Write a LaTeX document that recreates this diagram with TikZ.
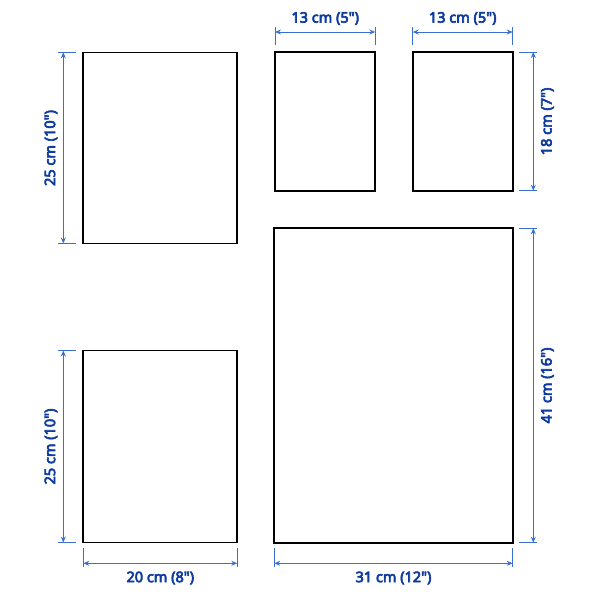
\documentclass[tikz,border=0pt]{standalone}
\usepackage{fontspec}
\newfontfamily\dimfont{Noto Sans}[FakeBold=4.5]
\usetikzlibrary{arrows.meta}
\definecolor{dimline}{HTML}{3A6FD0}
\definecolor{dimtext}{HTML}{0E3C9E}
\newcommand{\qt}{\symbol{34}}
\tikzset{
  panel/.style={draw=black, line width=1.8pt, inner sep=0pt, fill=white},
  dimarrow/.style={draw=dimline, line width=0.9pt, {Stealth[length=6pt,width=5pt]}-{Stealth[length=6pt,width=5pt]}},
  extline/.style={draw=dimline, line width=0.9pt},
  dimlabel/.style={text=dimtext, font=\dimfont\fontsize{14.5}{16}\selectfont, inner sep=0pt},
}
\begin{document}
\begin{tikzpicture}[x=1pt,y=-1pt]
\useasboundingbox (0,0) rectangle (600,600);
% panels
\node[panel, minimum width=154, minimum height=191] (A) at (160.3,147.9) {};
\node[panel, minimum width=100, minimum height=139] (B) at (325.2,121.4) {};
\node[panel, minimum width=100, minimum height=139] (C) at (462.7,121.4) {};
\node[panel, minimum width=154, minimum height=192] (D) at (160.3,446.5) {};
\node[panel, minimum width=238.5, minimum height=314.5] (E) at (393.5,385.5) {};

% A vertical dim
\coordinate (a1) at (58,52.3); \coordinate (a2) at (76,52.3);
\coordinate (a3) at (58,243.5); \coordinate (a4) at (76,243.5);
\draw[extline] (a1) -- (a2);
\draw[extline] (a3) -- (a4);
\coordinate (a5) at (63.3,52.3); \coordinate (a6) at (63.3,243.5);
\draw[dimarrow] (a5) -- (a6);
\node[dimlabel, rotate=90] (la) at (51,148) {25 cm (10\qt)};

% B horizontal dim
\coordinate (b1) at (275,27); \coordinate (b2) at (275,45);
\coordinate (b3) at (375.3,27); \coordinate (b4) at (375.3,45);
\draw[extline] (b1) -- (b2);
\draw[extline] (b3) -- (b4);
\coordinate (b5) at (275,32); \coordinate (b6) at (375.3,32);
\draw[dimarrow] (b5) -- (b6);
\node[dimlabel] (lb) at (325.2,18.5) {13 cm (5\qt)};

% C horizontal dim
\coordinate (c1) at (412.7,27); \coordinate (c2) at (412.7,45);
\coordinate (c3) at (512.7,27); \coordinate (c4) at (512.7,45);
\draw[extline] (c1) -- (c2);
\draw[extline] (c3) -- (c4);
\coordinate (c5) at (412.7,32); \coordinate (c6) at (512.7,32);
\draw[dimarrow] (c5) -- (c6);
\node[dimlabel] (lc) at (462.7,18.5) {13 cm (5\qt)};

% C vertical dim
\coordinate (c7) at (519,52); \coordinate (c8) at (537,52);
\coordinate (c9) at (519,190.7); \coordinate (c10) at (537,190.7);
\draw[extline] (c7) -- (c8);
\draw[extline] (c9) -- (c10);
\coordinate (c11) at (533.3,52); \coordinate (c12) at (533.3,190.7);
\draw[dimarrow] (c11) -- (c12);
\node[dimlabel, rotate=90] (lc2) at (547.5,121.4) {18 cm (7\qt)};

% D vertical dim
\coordinate (d1) at (58,350.5); \coordinate (d2) at (76,350.5);
\coordinate (d3) at (58,542.5); \coordinate (d4) at (76,542.5);
\draw[extline] (d1) -- (d2);
\draw[extline] (d3) -- (d4);
\coordinate (d5) at (63.3,350.5); \coordinate (d6) at (63.3,542.5);
\draw[dimarrow] (d5) -- (d6);
\node[dimlabel, rotate=90] (ld) at (51,446.5) {25 cm (10\qt)};

% D horizontal dim
\coordinate (d7) at (83.3,548); \coordinate (d8) at (83.3,567);
\coordinate (d9) at (237.3,548); \coordinate (d10) at (237.3,567);
\draw[extline] (d7) -- (d8);
\draw[extline] (d9) -- (d10);
\coordinate (d11) at (83.3,563.3); \coordinate (d12) at (237.3,563.3);
\draw[dimarrow] (d11) -- (d12);
\node[dimlabel] (ld2) at (160.3,578) {20 cm (8\qt)};

% E vertical dim
\coordinate (e1) at (519,228.3); \coordinate (e2) at (537,228.3);
\coordinate (e3) at (519,542.7); \coordinate (e4) at (537,542.7);
\draw[extline] (e1) -- (e2);
\draw[extline] (e3) -- (e4);
\coordinate (e5) at (533.3,228.3); \coordinate (e6) at (533.3,542.7);
\draw[dimarrow] (e5) -- (e6);
\node[dimlabel, rotate=90] (le) at (547.5,385.5) {41 cm (16\qt)};

% E horizontal dim
\coordinate (e7) at (274.3,548); \coordinate (e8) at (274.3,567);
\coordinate (e9) at (512.7,548); \coordinate (e10) at (512.7,567);
\draw[extline] (e7) -- (e8);
\draw[extline] (e9) -- (e10);
\coordinate (e11) at (274.3,563.3); \coordinate (e12) at (512.7,563.3);
\draw[dimarrow] (e11) -- (e12);
\node[dimlabel] (le2) at (393.5,578) {31 cm (12\qt)};
\end{tikzpicture}
\end{document}
